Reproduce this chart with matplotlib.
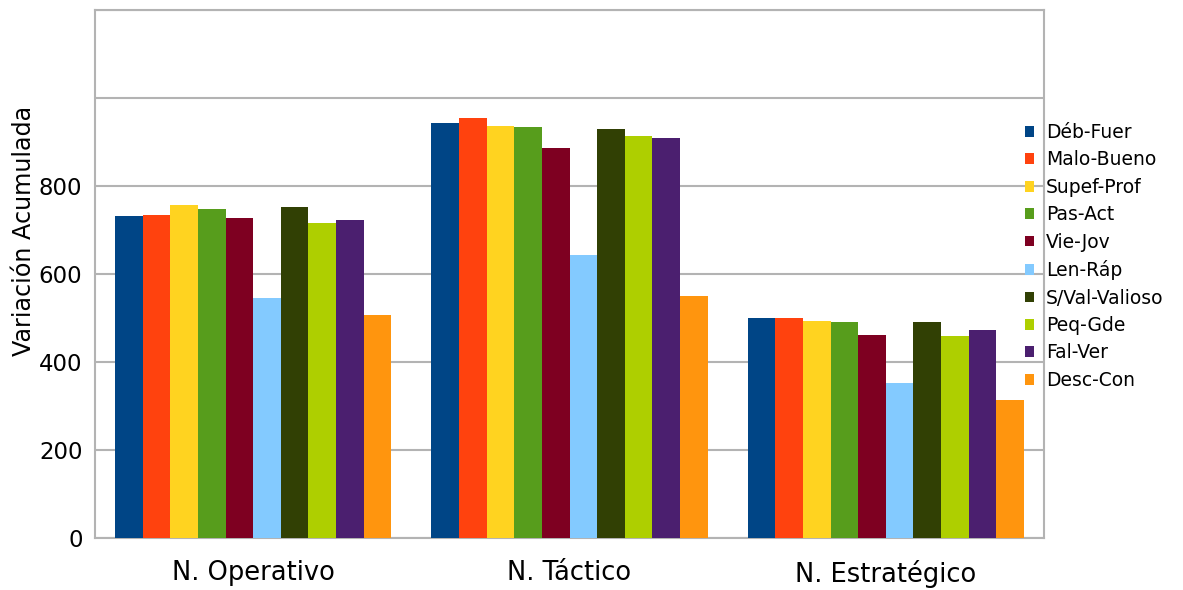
import matplotlib
matplotlib.use("Agg")
import matplotlib.pyplot as plt
import numpy as np
from matplotlib.patches import Patch

categories = ["N. Operativo", "N. Táctico", "N. Estratégico"]
series = ["Déb-Fuer", "Malo-Bueno", "Supef-Prof", "Pas-Act", "Vie-Jov",
          "Len-Ráp", "S/Val-Valioso", "Peq-Gde", "Fal-Ver", "Desc-Con"]

deb_fuer = [732, 943, 500]
malo_bueno = [734, 955, 500]
supef_prof = [757, 936, 493]
pas_act = [748, 934, 491]
vie_jov = [727, 886, 461]
len_rap = [545, 643, 352]
sval_valioso = [752, 930, 491]
peq_gde = [716, 914, 459]
fal_ver = [723, 909, 473]
desc_con = [507, 550, 314]

values = [deb_fuer, malo_bueno, supef_prof, pas_act, vie_jov,
          len_rap, sval_valioso, peq_gde, fal_ver, desc_con]

colors = ["#004586", "#ff420e", "#ffd320", "#579d1c", "#7e0021",
          "#83caff", "#314004", "#aecf00", "#4b1f6f", "#ff950e"]

yticks = [0, 200, 400, 600, 800, 1000, 1200]
ytick_labels = ["0", "200", "400", "600", "800", "", ""]

grid_col = "#b3b3b3"

fig = plt.figure(figsize=(11.83, 5.9), dpi=100)
ax = fig.add_axes([95 / 1183, 52 / 590, 949 / 1183, 528 / 590])

x = np.arange(len(categories))
n = len(series)
group = 0.873
w = group / n
for i, (name, vals, c) in enumerate(zip(series, values, colors)):
    ax.bar(x - group / 2 + w * (i + 0.5), vals, width=w, color=c,
           label=name, zorder=3, linewidth=0)

ax.set_xlim(-0.5, 2.5)
ax.set_ylim(0, 1200)
ax.set_yticks(yticks)
ax.set_yticklabels(ytick_labels)
ax.set_xticks(x)
ax.set_xticklabels(categories)
ax.tick_params(axis="both", length=0)
ax.tick_params(axis="x", pad=16, labelsize=18.5)
ax.tick_params(axis="y", pad=9, labelsize=16.5)
ax.yaxis.grid(True, color=grid_col, linewidth=1.5, zorder=0)
for s in ax.spines.values():
    s.set_color(grid_col)
    s.set_linewidth(1.5)

ax.set_ylabel("Variación Acumulada", fontsize=17.2)
ax.yaxis.set_label_coords(-0.062, 0.581)

handles = [Patch(facecolor=c, edgecolor="none") for c in colors]
fig.legend(handles, series, loc="upper left",
           bbox_to_anchor=(1025 / 1183, 1 - 123 / 590),
           frameon=False, fontsize=13.5, borderpad=0, borderaxespad=0,
           handlelength=0.5, handleheight=0.5, handletextpad=0.6,
           labelspacing=0.45)

fig.savefig("out.png", dpi=100)
